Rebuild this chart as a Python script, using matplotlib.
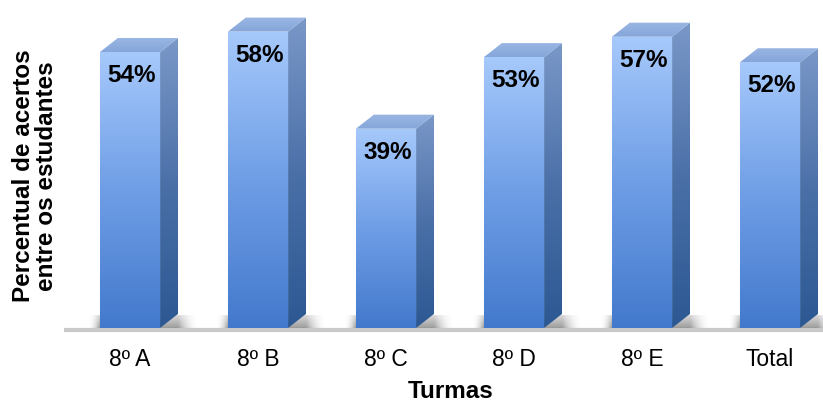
import numpy as np
import matplotlib
matplotlib.use("Agg")
import matplotlib.pyplot as plt
from matplotlib.patches import Polygon
from matplotlib.colors import LinearSegmentedColormap

plt.rcParams['font.family'] = ['Liberation Sans', 'DejaVu Sans']

turmas = ['8º A', '8º B', '8º C', '8º D', '8º E', 'Total']
acertos = [54, 58, 39, 53, 57, 52]

# pseudo-3D bar geometry (data units)
bar_w = 0.47
depth_x = 0.14
depth_y = 2.75

front_cmap = LinearSegmentedColormap.from_list('front', ['#4379cc', '#6f9ee6', '#a6c9fb'])
side_cmap = LinearSegmentedColormap.from_list('side', ['#2c5892', '#4b70a8', '#7a98c8'])
top_cmap = LinearSegmentedColormap.from_list('top', ['#86a6da', '#9ab6e2'])


def gradient_fill(ax, verts, cmap, y0, y1):
    # vertical gradient image clipped to a polygon
    poly = Polygon(verts, closed=True, facecolor='none', edgecolor='none')
    ax.add_patch(poly)
    xs = [v[0] for v in verts]
    grad = np.linspace(0, 1, 256).reshape(-1, 1)
    im = ax.imshow(grad, cmap=cmap, origin='lower', aspect='auto',
                   extent=(min(xs), max(xs), y0, y1), interpolation='bilinear', zorder=3)
    im.set_clip_path(poly)


def floor_shadow(ax, xl, xr):
    # soft grey shadow cast on the floor behind the bar
    lpad, rpad = 0.09, 0.16
    xs = np.linspace(xl - lpad, xr + depth_x + rpad, 200)
    ys = np.linspace(0, depth_y * 0.9, 30)
    X, Y = np.meshgrid(xs, ys)
    a = np.ones_like(X)
    left = X < xl
    a[left] = np.clip((X[left] - (xl - lpad)) / lpad, 0, 1) ** 2
    right = X > xr + depth_x
    a[right] = np.clip(1 - (X[right] - (xr + depth_x)) / rpad, 0, 1) ** 2
    a *= 1 - 0.6 * Y / Y.max()
    rgba = np.zeros(X.shape + (4,))
    rgba[..., :3] = 0.3
    rgba[..., 3] = a * 0.55
    ax.imshow(rgba, origin='lower', aspect='auto', interpolation='bilinear',
              extent=(xs[0], xs[-1], 0, ys[-1]), zorder=2)


fig = plt.figure(figsize=(8.23, 4.03), dpi=100)
ax = fig.add_axes([0, 0, 1, 1])
ax.axis('off')

# floor line
ax.plot([-0.515, 5.42], [-0.4, -0.4], color='#cacaca', lw=3, solid_capstyle='butt', zorder=1)

x = np.arange(len(turmas))
bars = ax.bar(x, acertos, width=bar_w, color='none', zorder=3)
for rect, val in zip(bars, acertos):
    xl = rect.get_x()
    xr = xl + rect.get_width()
    h = rect.get_height()
    floor_shadow(ax, xl, xr)
    gradient_fill(ax, [(xl, 0), (xr, 0), (xr, h), (xl, h)], front_cmap, 0, h)
    gradient_fill(ax, [(xr, 0), (xr + depth_x, depth_y), (xr + depth_x, h + depth_y), (xr, h)],
                  side_cmap, 0, h + depth_y)
    gradient_fill(ax, [(xl, h), (xr, h), (xr + depth_x, h + depth_y), (xl + depth_x, h + depth_y)],
                  top_cmap, h, h + depth_y)
    ax.text(xl + rect.get_width() / 2 + 0.015, h - 4.6, f'{val}%', ha='center', va='center',
            fontsize=17.5, fontweight='bold', color='black', zorder=5)

for xi, lab in zip(x, turmas):
    ax.text(xi, -6.2, lab, ha='center', va='center', fontsize=16.5, color='black')

ax.set_xlim(-1.0156, 5.414)
ax.set_ylim(-14.68, 64.19)

fig.text(451 / 823, 1 - 392 / 403, 'Turmas', ha='center', va='center',
         fontsize=17.5, fontweight='bold')
fig.text(35 / 823, 1 - 176 / 403, 'Percentual de acertos\nentre os estudantes', ha='center',
         va='center', rotation=90, fontsize=17.5, fontweight='bold', linespacing=1.0)

fig.savefig('out.png', dpi=100)
